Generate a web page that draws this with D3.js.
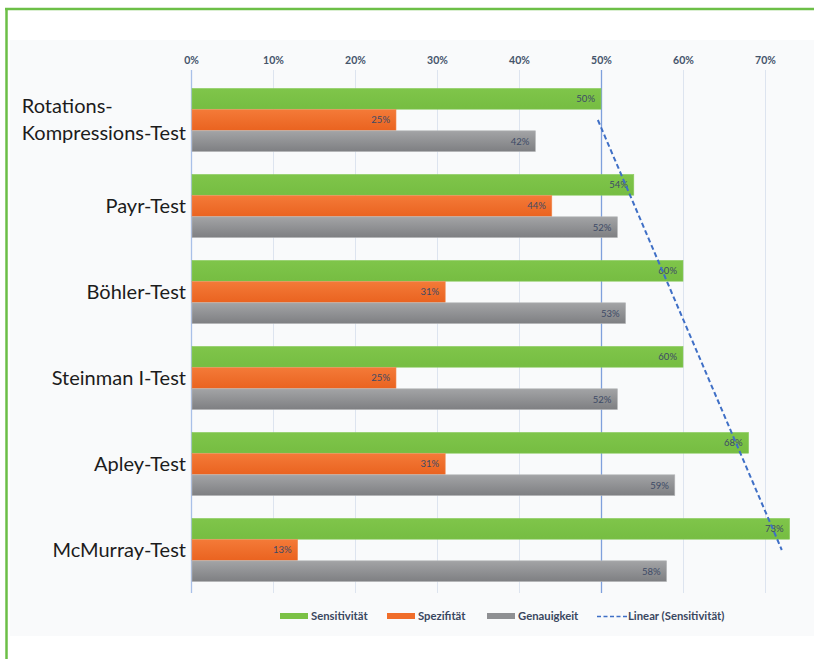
<!DOCTYPE html>
<html>
<head>
<meta charset="utf-8">
<script src="https://cdn.jsdelivr.net/npm/d3@7"></script>
<style>
  html, body { margin: 0; padding: 0; background: #ffffff; }
  svg { display: block; }
</style>
</head>
<body>
<script>
// Test names (top to bottom) and results per test
const categories = ["Rotations-\nKompressions-Test", "Payr-Test", "Böhler-Test", "Steinman I-Test", "Apley-Test", "McMurray-Test"];
const sensitivitaet = [50, 54, 60, 60, 68, 73];
const spezifitaet = [25, 44, 31, 25, 31, 13];
const genauigkeit = [42, 52, 53, 52, 59, 58];
const tickValues = [0, 10, 20, 30, 40, 50, 60, 70];
const seriesNames = ["Sensitivität", "Spezifität", "Genauigkeit"];
const trendName = "Linear (Sensitivität)";

const W = 814, H = 659;
const svg = d3.select("body").append("svg").attr("width", W).attr("height", H);

const defs = svg.append("defs");
function vGrad(id, top, bottom) {
  const g = defs.append("linearGradient").attr("id", id)
    .attr("x1", 0).attr("y1", 0).attr("x2", 0).attr("y2", 1);
  g.append("stop").attr("offset", "0%").attr("stop-color", top);
  g.append("stop").attr("offset", "100%").attr("stop-color", bottom);
}
vGrad("gGreen", "#7fc54a", "#76bd42");
vGrad("gOrange", "#f47a38", "#ea6320");
vGrad("gGray", "#a3a4a6", "#7e7f82");

// frame
svg.append("rect").attr("x", 10).attr("y", 40).attr("width", W - 10).attr("height", 596).attr("fill", "#f9fafb");
svg.append("line").attr("x1", 5).attr("x2", W).attr("y1", 9).attr("y2", 9).attr("stroke", "#6cbf47").attr("stroke-width", 2.5);
svg.append("line").attr("x1", 6.5).attr("x2", 6.5).attr("y1", 8).attr("y2", H).attr("stroke", "#6cbf47").attr("stroke-width", 2.5);

const x = d3.scaleLinear().domain([0, 70]).range([191, 765]);
const y = d3.scaleBand().domain(d3.range(categories.length)).range([77, 593]).paddingInner(0.256).paddingOuter(0.128);
const inner = d3.scaleBand().domain([0, 1, 2]).range([0, y.bandwidth()]).padding(0.02);

// gridlines
const gridTop = 70, gridBottom = 593;
svg.append("g").selectAll("line").data(tickValues).join("line")
  .attr("x1", d => x(d) + 0.5).attr("x2", d => x(d) + 0.5)
  .attr("y1", gridTop).attr("y2", gridBottom)
  .attr("stroke", d => d === 0 ? "#a9c0e8" : d === 50 ? "#7fa0dc" : "#dde4ef")
  .attr("stroke-width", d => (d === 0 || d === 50) ? 1.3 : 1);

// top axis
const axis = d3.axisTop(x).tickValues(tickValues).tickFormat(d => d + "%").tickSize(0).tickPadding(0);
const ax = svg.append("g").attr("transform", "translate(0,64)").call(axis);
ax.select(".domain").remove();
ax.selectAll("text")
  .attr("font-family", "Lato, 'Open Sans', sans-serif").attr("font-size", 10.5).attr("font-weight", "bold")
  .attr("fill", "#44546a");

// bars
const series = [
  { name: seriesNames[0], values: sensitivitaet, fill: "url(#gGreen)", stroke: "#8ccc5f" },
  { name: seriesNames[1], values: spezifitaet, fill: "url(#gOrange)", stroke: "#f08a50" },
  { name: seriesNames[2], values: genauigkeit, fill: "url(#gGray)", stroke: "#b5b6b8" }
];

const groups = svg.append("g").selectAll("g").data(categories).join("g")
  .attr("transform", (d, i) => `translate(0,${y(i)})`);

series.forEach((s, si) => {
  groups.append("rect")
    .attr("x", x(0) + 1)
    .attr("y", inner(si))
    .attr("width", (d, i) => x(s.values[i]) - x(0) - 1)
    .attr("height", inner.bandwidth())
    .attr("fill", s.fill)
    .attr("stroke", s.stroke).attr("stroke-width", 0.6);
  groups.append("text")
    .attr("x", (d, i) => x(s.values[i]) - 6)
    .attr("y", inner(si) + inner.bandwidth() / 2)
    .attr("dy", "0.35em")
    .attr("text-anchor", "end")
    .attr("font-family", "Lato, 'Open Sans', sans-serif").attr("font-size", 9.5)
    .attr("fill", "#3d4a66")
    .text((d, i) => s.values[i] + "%");
});

// category labels (multi-line labels left-aligned as a block, block right-aligned)
const labelRight = 186;
groups.each(function (d, i) {
  const lines = d.split("\n");
  const g = d3.select(this);
  const cy = y.bandwidth() / 2;
  const lh = 27;
  const t = g.append("text")
    .attr("font-family", "Lato, 'Open Sans', sans-serif").attr("font-size", 20)
    .attr("fill", "#1c1c1c");
  lines.forEach((ln, li) => {
    t.append("tspan").attr("y", cy + (li - (lines.length - 1) / 2) * lh).attr("dy", "0.35em").text(ln);
  });
  let maxW = 0;
  t.selectAll("tspan").each(function () { maxW = Math.max(maxW, this.getComputedTextLength()); });
  t.selectAll("tspan").attr("x", labelRight - maxW);
});

// linear trendline of Sensitivität across the categories
const xs = d3.range(1, categories.length + 1);
const mx = d3.mean(xs), my = d3.mean(sensitivitaet);
const slope = d3.sum(xs, (v, i) => (v - mx) * (sensitivitaet[i] - my)) / d3.sum(xs, v => (v - mx) ** 2);
const icpt = my - slope * mx;
const trendPts = [0, categories.length - 1].map(i => [x(icpt + slope * (i + 1)), y(i) + y.bandwidth() / 2]);
svg.append("path").attr("d", d3.line()(trendPts))
  .attr("fill", "none").attr("stroke", "#3f6fc6").attr("stroke-width", 2)
  .attr("stroke-dasharray", "5,3");

// legend
const lg = svg.append("g").attr("font-family", "Lato, 'Open Sans', sans-serif").attr("font-size", 11.3).attr("font-weight", "bold");
const legendItems = [
  { name: seriesNames[0], x: 280, color: "#7bc145" },
  { name: seriesNames[1], x: 387, color: "#f06d2a" },
  { name: seriesNames[2], x: 487, color: "#8f9093" },
  { name: trendName, x: 597, line: true }
];
legendItems.forEach(it => {
  if (it.line) {
    lg.append("line").attr("x1", it.x).attr("x2", it.x + 30).attr("y1", 616.5).attr("y2", 616.5)
      .attr("stroke", "#3f6fc6").attr("stroke-width", 1.5).attr("stroke-dasharray", "4,2.5");
  } else {
    lg.append("rect").attr("x", it.x).attr("y", 613).attr("width", 28).attr("height", 6).attr("fill", it.color);
  }
  lg.append("text").attr("x", it.x + 31).attr("y", 616.5).attr("dy", "0.35em").attr("fill", "#3a4760").text(it.name);
});
</script>
</body>
</html>
